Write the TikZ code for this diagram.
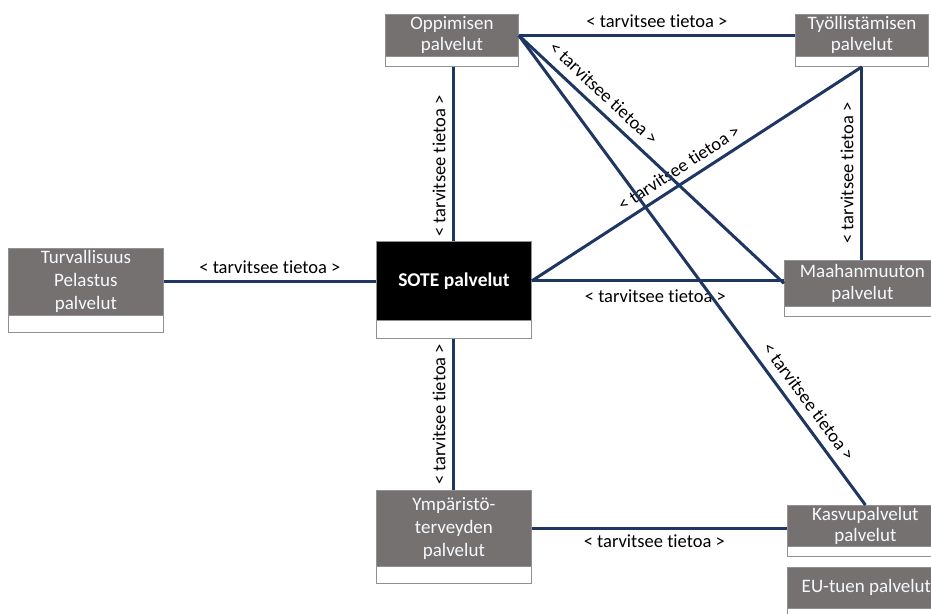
\documentclass[tikz,border=0pt]{standalone}
\usepackage{fontspec}
\setmainfont[Ligatures={TeX,NoCommon}]{Carlito}
\usetikzlibrary{calc}
\definecolor{navy}{RGB}{31,54,98}
\definecolor{boxgrey}{RGB}{118,113,113}
\definecolor{boxline}{RGB}{145,145,145}
\definecolor{boxtext}{RGB}{246,249,253}
\begin{document}
\begin{tikzpicture}[x=1pt,y=-1pt,
  head/.style={draw=boxline, line width=0.8pt, fill=boxgrey, text=boxtext,
    inner sep=0pt, anchor=north west, align=center,
    font=\fontsize{19}{22}\selectfont},
  strip/.style={draw=boxline, line width=0.8pt, fill=white, inner sep=0pt,
    anchor=north west},
  link/.style={draw=navy, line width=3pt},
  lab/.style={font=\fontsize{18.5}{22}\selectfont, text=black, inner sep=0pt, sloped}
]
\useasboundingbox (0,0) rectangle (931,613);
\clip (0,0) rectangle (931,613);

% service boxes: coloured head with a white strip underneath
\node[head, minimum width=133pt, minimum height=42pt, font=\fontsize{19}{21}\selectfont] (opp) at (385,14) {Oppimisen\\palvelut};
\node[strip, minimum width=133pt, minimum height=10pt] (opps) at (385,56) {};

\node[head, minimum width=133pt, minimum height=42pt, font=\fontsize{19}{21}\selectfont] (tyo) at (795,14) {Työllistämisen\\palvelut};
\node[strip, minimum width=133pt, minimum height=10pt] (tyos) at (795,56) {};

\node[head, minimum width=155pt, minimum height=67pt, font=\fontsize{19}{23}\selectfont] (turva) at (8,248) {Turvallisuus\\Pelastus\\palvelut};
\node[strip, minimum width=155pt, minimum height=17pt] (turvas) at (8,315) {};

\node[head, fill=black, text=white, minimum width=155pt, minimum height=79pt, font=\fontsize{19.5}{22}\selectfont\bfseries] (sote) at (376,241) {SOTE palvelut};
\node[strip, minimum width=155pt, minimum height=18pt] (sotes) at (376,320) {};

\node[head, minimum width=156pt, minimum height=46pt] (maah) at (784,260) {Maahanmuuton\\palvelut};
\node[strip, minimum width=156pt, minimum height=10pt] (maahs) at (784,306) {};

\node[head, minimum width=155pt, minimum height=76pt, font=\fontsize{19}{23}\selectfont] (ymp) at (376,490) {Ympäristö-\\terveyden\\palvelut};
\node[strip, minimum width=155pt, minimum height=17pt] (ymps) at (376,566) {};

\node[head, minimum width=156pt, minimum height=41pt, font=\fontsize{19}{21}\selectfont] (kasvu) at (787,505) {Kasvupalvelut\\palvelut};
\node[strip, minimum width=156pt, minimum height=10pt] (kasvus) at (787,546) {};

\node[head, minimum width=158pt, minimum height=41pt] (eu) at (787,567) {EU-tuen palvelut};
\node[strip, minimum width=158pt, minimum height=10pt] (eus) at (787,608) {};

% information needs between the services
\draw[link] (opp.east) -- (tyo.west)
  node[lab, pos=0.5, above=6pt] {< tarvitsee tietoa >};
\draw[link] (sote.north) -- (sote.north |- opps.south)
  node[lab, pos=0.43, above=7pt] {< tarvitsee tietoa >};
\draw[link] (maah.north -| tyos.south) -- (tyos.south)
  node[lab, pos=0.45, above=7pt] {< tarvitsee tietoa >};
\draw[link] (turva.east) -- (turva.east -| sote.west)
  node[lab, pos=0.5, above=7pt] {< tarvitsee tietoa >};
\draw[link] (sote.east) -- (sote.east -| maah.west)
  node[lab, pos=0.49, below=7pt] {< tarvitsee tietoa >};
\draw[link] (ymp.north -| sotes.south) -- (sotes.south)
  node[lab, pos=0.5, above=7pt] {< tarvitsee tietoa >};
\draw[link] (ymp.east) -- (ymp.east -| kasvu.west)
  node[lab, pos=0.48, below=5pt] {< tarvitsee tietoa >};
\draw[link] (sote.east) -- (tyos.south)
  node[lab, pos=0.47, above=7pt] {< tarvitsee tietoa >};
\draw[link] (opp.east) -- (maah.west)
  node[lab, pos=0.28, above=8pt] {< tarvitsee tietoa >};
\draw[link] (opp.east) -- (kasvu.north)
  node[lab, pos=0.80, above=8pt] {< tarvitsee tietoa >};
\end{tikzpicture}
\end{document}
